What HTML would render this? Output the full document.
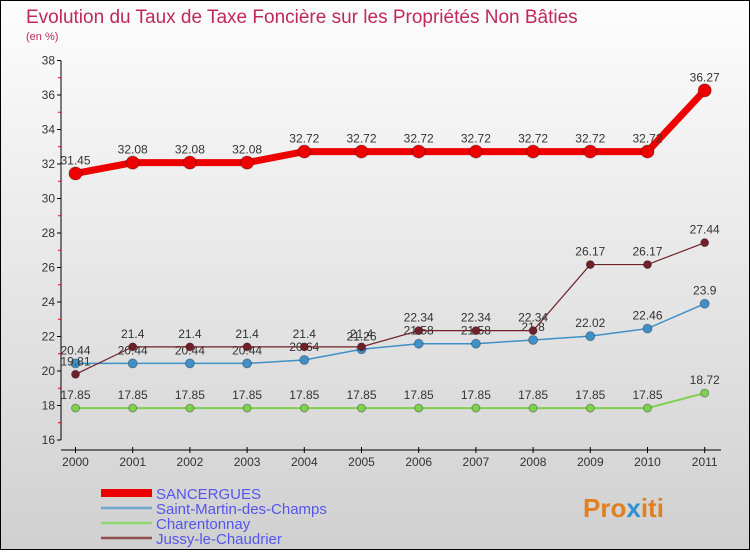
<!DOCTYPE html>
<html><head><meta charset="utf-8"><style>
body{margin:0;width:750px;height:550px;overflow:hidden;font-family:"Liberation Sans",sans-serif}
#wrap{position:relative;width:748px;height:548px;border:1px solid #000;background:linear-gradient(#fdfdfd,#d0d0d0)}
</style></head><body>
<div id="wrap">
<svg id="c" width="748" height="548" xmlns="http://www.w3.org/2000/svg">
<text x="25" y="22" font-size="19" fill="#c0285a">Evolution du Taux de Taxe Foncière sur les Propriétés Non Bâties</text>
<text x="25" y="39" font-size="11" fill="#c0285a">(en %)</text>
<g id="axes"></g><g id="series"></g><g id="legend"></g>
<text x="582" y="516" font-size="26" font-weight="bold" fill="#e08020">Pro<tspan fill="#3090d0">x</tspan>iti</text>
</svg></div>
<script>
const years=["2000","2001","2002","2003","2004","2005","2006","2007","2008","2009","2010","2011"];
const yTicks=[16,18,20,22,24,26,28,30,32,34,36,38];
const sancergues=[31.45,32.08,32.08,32.08,32.72,32.72,32.72,32.72,32.72,32.72,32.72,36.27];
const stMartin=[20.44,20.44,20.44,20.44,20.64,21.26,21.58,21.58,21.8,22.02,22.46,23.9];
const charentonnay=[17.85,17.85,17.85,17.85,17.85,17.85,17.85,17.85,17.85,17.85,17.85,18.72];
const jussy=[19.81,21.4,21.4,21.4,21.4,21.4,22.34,22.34,22.34,26.17,26.17,27.44];
const names=["SANCERGUES","Saint-Martin-des-Champs","Charentonnay","Jussy-le-Chaudrier"];
const NS="http://www.w3.org/2000/svg";
const X=i=>74.5+i*57.2, Y=v=>439-(v-16)*17.25;
function mk(t,a,p){const e=document.createElementNS(NS,t);for(const k in a)e.setAttribute(k,a[k]);p.appendChild(e);return e;}
const ax=document.getElementById('axes');
let l=mk('line',{x1:60,y1:Y(16),x2:60,y2:Y(38),stroke:'#000'},ax);

l=mk('line',{x1:60,y1:449,x2:720,y2:449,stroke:'#000'},ax);

yTicks.forEach(v=>{mk('line',{x1:56,x2:60,y1:Y(v),y2:Y(v),stroke:'#000'},ax);
 if(v<38)mk('line',{x1:57,x2:60,y1:Y(v+1),y2:Y(v+1),stroke:'#e00'},ax);
 const t=mk('text',{x:54,y:Y(v)+4,'font-size':12,fill:'#333','text-anchor':'end'},ax);t.textContent=v;
 });
years.forEach((y,i)=>{mk('line',{x1:X(i),x2:X(i),y1:446,y2:452,stroke:'#000'},ax);
 const t=mk('text',{x:X(i),y:465,'font-size':12,fill:'#333','text-anchor':'middle'},ax);t.textContent=y;
 });
const sg=document.getElementById('series');
function draw(data,color,w,r,name){const g=mk('g',{},sg);
 
 const p=mk('polyline',{points:data.map((v,i)=>X(i)+','+Y(v)).join(' '),fill:'none',stroke:color,'stroke-width':w},g);
 
 data.forEach((v,i)=>{const c=mk('circle',{cx:X(i),cy:Y(v),r:r,fill:color,stroke:'rgba(0,0,0,0.3)'},g);
  
  const t=mk('text',{x:X(i),y:Y(v)-9,'font-size':12,fill:'#333','text-anchor':'middle'},g);
  t.textContent=String(v).replace(/^(\d+)\.(\d)0?$/,'$1.$2');
  });}
draw(charentonnay,'#80d050',2,4,'charentonnay-series');
draw(stMartin,'#4090c8',1.5,4.5,'saint-martin-series');
draw(jussy,'#702028',1.2,4,'jussy-series');
draw(sancergues,'#ee0000',7,6.5,'sancergues-series');
const lg=document.getElementById('legend');const cols=['#ee0000','#70a8d0','#90d870','#905050'];const ws=[8,2.5,2.5,2.5];
names.forEach((n,i)=>{const y=492+i*15;
 const ln=mk('line',{x1:100,x2:151,y1:y,y2:y,stroke:cols[i],'stroke-width':ws[i]},lg);
 
 const t=mk('text',{x:155,y:y+6,'font-size':15,fill:'#5555ee'},lg);t.textContent=n;
 });
</script></body></html>
